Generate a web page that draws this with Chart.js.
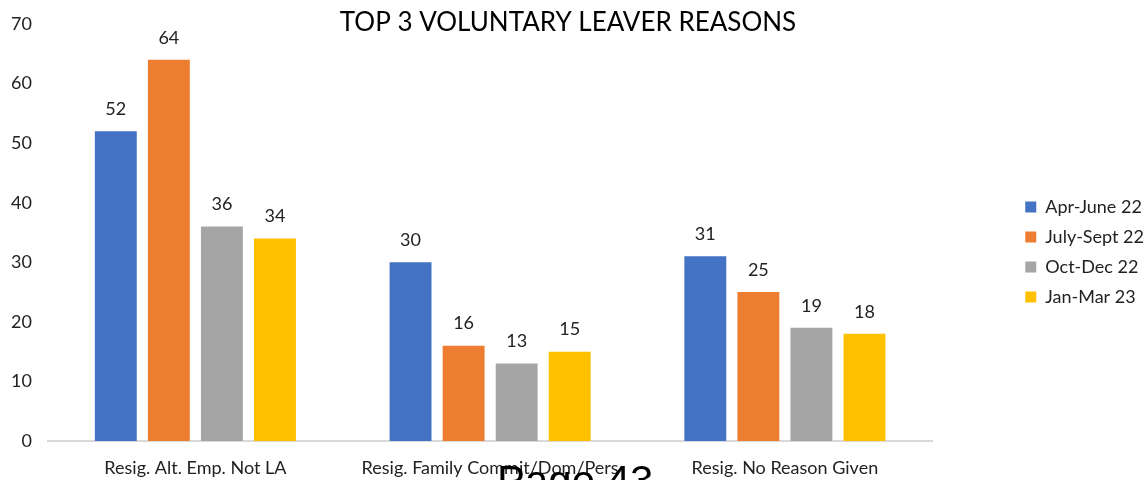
<!DOCTYPE html>
<html>
<head>
<meta charset="utf-8">
<script src="https://cdn.jsdelivr.net/npm/chart.js@4.4.0/dist/chart.umd.min.js"></script>
<style>
html,body{margin:0;padding:0;background:#fff;}
#wrap{position:relative;width:1148px;height:480px;overflow:hidden;}
#page{position:absolute;left:497px;top:460px;font-family:"Liberation Sans",Arial,sans-serif;font-size:42px;color:#000;white-space:nowrap;line-height:1;}
</style>
</head>
<body>
<div id="wrap">
<canvas id="c" width="1148" height="480"></canvas>
<div id="page">Page 43</div>
</div>
<script>
const categories = ["Resig. Alt. Emp. Not LA", "Resig. Family Commit/Dom/Pers", "Resig. No Reason Given"];
const seriesNames = ["Apr-June 22", "July-Sept 22", "Oct-Dec 22", "Jan-Mar 23"];
const aprJune22 = [52, 30, 31];
const julySept22 = [64, 16, 25];
const octDec22 = [36, 13, 19];
const janMar23 = [34, 15, 18];
const colors = ["#4472C4", "#ED7D31", "#A5A5A5", "#FFC000"];
const titleText = "TOP 3 VOLUNTARY LEAVER REASONS";
const FONT = "Lato, 'Open Sans', sans-serif";

const valueLabels = {
  id: 'valueLabels',
  afterDatasetsDraw(chart) {
    const ctx = chart.ctx;
    ctx.save();
    ctx.font = "18px " + FONT;
    ctx.fillStyle = "#222";
    ctx.textAlign = "center";
    ctx.textBaseline = "middle";
    chart.data.datasets.forEach((ds, i) => {
      chart.getDatasetMeta(i).data.forEach((bar, j) => {
        ctx.fillText(String(ds.data[j]), bar.x, bar.y - 22);
      });
    });
    ctx.restore();
  }
};
const overlayTitle = {
  id: 'overlayTitle',
  afterDraw(chart) {
    const ctx = chart.ctx;
    ctx.save();
    ctx.font = "26px " + FONT;
    ctx.fillStyle = "#000";
    ctx.textAlign = "center";
    ctx.textBaseline = "middle";
    ctx.fillText(titleText, 568, 23);
    ctx.restore();
  }
};

new Chart(document.getElementById('c'), {
  type: 'bar',
  data: {
    labels: categories,
    datasets: [aprJune22, julySept22, octDec22, janMar23].map((d, i) => ({
      label: seriesNames[i],
      data: d,
      backgroundColor: colors[i],
      borderWidth: 0,
      categoryPercentage: 0.72,
      barPercentage: 0.79
    }))
  },
  options: {
    responsive: false,
    animation: false,
    devicePixelRatio: 1,
    layout: { padding: { top: 24, bottom: 0, left: 0, right: -6 } },
    plugins: {
      legend: {
        position: 'right',
        labels: {
          boxWidth: 11, boxHeight: 11, padding: 12,
          color: "#222",
          font: { family: FONT, size: 18 }
        }
      },
      title: { display: false },
      tooltip: { enabled: false }
    },
    scales: {
      y: {
        min: 0, max: 70,
        ticks: { stepSize: 10, color: "#222", font: { family: FONT, size: 18, lineHeight: 1 }, padding: 16 },
        grid: { display: false, drawTicks: false },
        border: { display: false },
        afterFit(s) { s.width = 48; s.paddingTop = 0; s.paddingBottom = 0; }
      },
      spacer: {
        type: 'linear',
        position: 'right',
        display: true,
        ticks: { display: false },
        grid: { display: false, drawTicks: false },
        border: { display: false },
        afterFit(s) { s.width = 81; s.paddingTop = 0; s.paddingBottom = 0; }
      },
      x: {
        ticks: { color: "#222", font: { family: FONT, size: 18 }, padding: 16 },
        grid: { display: false, drawTicks: false },
        border: { display: true, color: "#d9d9d9", width: 2 },
        afterFit(s) { s.height = 39; }
      }
    }
  },
  plugins: [valueLabels, overlayTitle]
});
</script>
</body>
</html>
